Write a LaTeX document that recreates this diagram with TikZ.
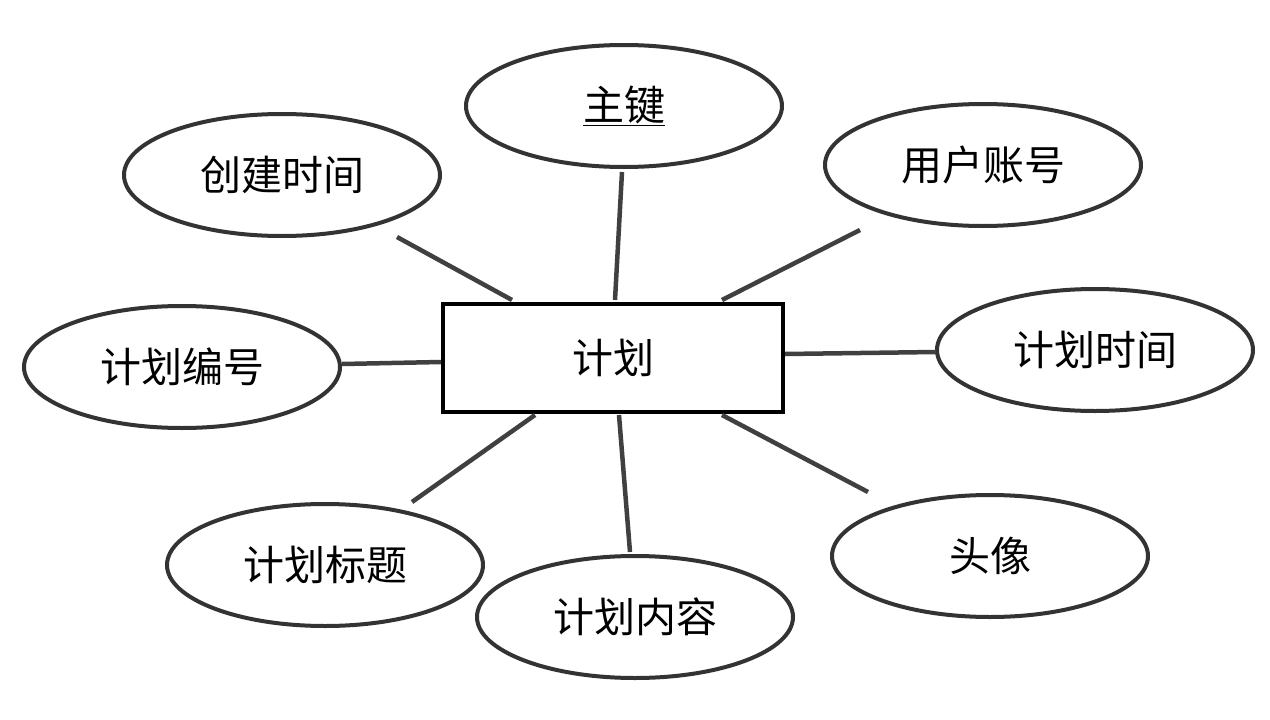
\documentclass[tikz,border=0pt]{standalone}
\usepackage{fontspec}
\newfontfamily\cjk{Noto Sans CJK SC}
\usetikzlibrary{shapes.geometric}
\begin{document}
\begin{tikzpicture}[x=1pt,y=-1pt,
  attr/.style={ellipse,draw=black!80,line width=4pt,minimum width=316pt,minimum height=122pt,inner sep=0pt,font=\cjk\fontsize{41}{48}\selectfont},
  ent/.style={rectangle,draw=black,line width=4.5pt,minimum width=340pt,minimum height=108pt,inner sep=0pt,font=\cjk\fontsize{41}{48}\selectfont},
  link/.style={draw=black!75,line width=4.5pt}]
\useasboundingbox (0,0) rectangle (1270,720);
\node[ent] (plan) at (613,358) {计划};
\node[attr] (pk) at (624,106) {\underline{主键}};
\node[attr] (ctime) at (282,175) {创建时间};
\node[attr] (user) at (983,165) {用户账号};
\node[attr] (pid) at (182,367) {计划编号};
\node[attr] (ptime) at (1095,350) {计划时间};
\node[attr] (ptitle) at (325,565) {计划标题};
\node[attr] (pcontent) at (635,617) {计划内容};
\node[attr] (avatar) at (990,556) {头像};
\coordinate (c1) at (397,237); \coordinate (p1) at (512,300);
\coordinate (c2) at (622,172); \coordinate (p2) at (615,300);
\coordinate (c3) at (860,230); \coordinate (p3) at (722,300);
\coordinate (c4) at (342,364); \coordinate (p4) at (441,362);
\coordinate (c5) at (936,352); \coordinate (p5) at (785,354);
\coordinate (c6) at (412,502); \coordinate (p6) at (535,415);
\coordinate (c7) at (630,552); \coordinate (p7) at (619,415);
\coordinate (c8) at (868,492); \coordinate (p8) at (722,415);
\foreach \i in {1,...,8} {\draw[link] (c\i) -- (p\i);}
\end{tikzpicture}
\end{document}
